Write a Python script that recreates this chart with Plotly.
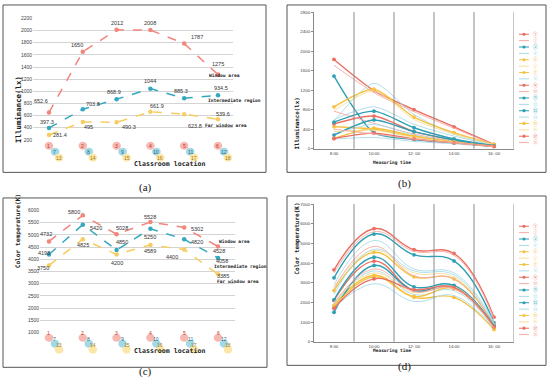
import plotly.graph_objects as go

W, H = 550, 391

# ---------------- data ----------------
locations = [1, 2, 3, 4, 5, 6]
series_names = ["Window area", "Intermediate region", "Far window area"]

illum_window = [652.6, 1650, 2012, 2008, 1787, 1275]
illum_mid = [397.3, 703.8, 868.9, 1044, 885.3, 934.5]
illum_far = [281.4, 495, 490.3, 661.9, 623.8, 539.6]
illum_window_lbl = ["652.6", "1650", "2012", "2008", "1787", "1275"]
illum_mid_lbl = ["397.3", "703.8", "868.9", "1044", "885.3", "934.5"]
illum_far_lbl = ["281.4", "495", "490.3", "661.9", "623.8", "539.6"]

cct_window = [4732, 5800, 5028, 5528, 5302, 4528]
cct_mid = [4198, 5420, 4380, 5250, 4820, 4058]
cct_far = [3750, 4825, 4200, 4589, 4400, 3385]
cct_window_lbl = ["4732", "5800", "5028", "5528", "5302", "4528"]
cct_mid_lbl = ["4198", "5420", "4850", "5250", "4820", "4058"]
cct_far_lbl = ["3750", "4825", "4200", "4589", "4400", "3385"]

row1_ids = ["1", "2", "3", "4", "5", "6"]
row2_ids = ["7", "8", "9", "10", "11", "12"]
row3_ids = ["13", "14", "15", "16", "17", "18"]

times = ["8:00", "10:00", "12: 00", "14:00", "16: 00"]
point_names = ["①", "②", "③", "④", "⑤", "⑥", "⑦", "⑧", "⑨",
               "⑩", "⑪", "⑫", "⑬", "⑭", "⑮", "⑯", "⑰", "⑱"]

illum_time = [
    [1830, 1190, 800, 450, 90],
    [1710, 1150, 760, 420, 80],
    [1490, 330, 190, 120, 50],
    [560, 1340, 700, 300, 80],
    [860, 1220, 650, 330, 90],
    [780, 1180, 600, 300, 80],
    [450, 400, 250, 150, 60],
    [600, 860, 500, 260, 70],
    [510, 670, 350, 180, 60],
    [770, 520, 300, 160, 50],
    [545, 770, 430, 200, 60],
    [300, 500, 280, 150, 50],
    [280, 590, 350, 180, 55],
    [200, 230, 150, 100, 40],
    [210, 420, 260, 140, 50],
    [350, 380, 230, 130, 50],
    [210, 320, 200, 120, 45],
    [400, 300, 200, 120, 40],
]

cct_time = [
    [3660, 5750, 4680, 4490, 1250],
    [3500, 5600, 4600, 4400, 1150],
    [3250, 5480, 4420, 4110, 960],
    [2900, 5150, 3700, 3500, 1000],
    [2600, 4550, 3300, 3200, 850],
    [2800, 4650, 3500, 3300, 900],
    [1850, 3380, 2260, 2260, 620],
    [2400, 4700, 3600, 3400, 900],
    [2100, 4100, 2600, 2750, 780],
    [2700, 4850, 3350, 3200, 850],
    [2130, 4300, 2790, 2870, 800],
    [1900, 3600, 2400, 2600, 700],
    [1500, 3880, 2600, 2800, 750],
    [1700, 2950, 2050, 2350, 650],
    [1750, 3300, 2300, 2700, 700],
    [2000, 3500, 2500, 2800, 720],
    [1700, 3200, 2650, 2750, 760],
    [1950, 3700, 2550, 2700, 700],
]

# ---------------- styles ----------------
RED, BLUE, YEL = "#f0867c", "#35a8c0", "#f7cd62"
R, Rl = "#ec6f63", "#f5aca4"
T, Tl = "#2e9fb5", "#a8dbe8"
Y, Yl = "#f5c244", "#f9dc96"
series_colors = [R, Rl, T, Tl, Y, Yl, Y, Tl, R, Rl, T, Tl, T, Tl, Y, Yl, R, Rl]
MONO = "DejaVu Sans Mono"
SANS = "Liberation Sans"


def fx(x):
    return x / W


def fy(y):
    return 1 - y / H


fig = go.Figure()
annotations = []
shapes = []

# ---------------- panels (a) and (c) ----------------
panel_ac = [
    dict(xa="x", ya="y", xaxis="xaxis", yaxis="yaxis",
         vals=[illum_window, illum_mid, illum_far],
         lbls=[illum_window_lbl, illum_mid_lbl, illum_far_lbl],
         offs=[[(-8, 11), (-6, 7), (0, 7), (0, 7), (13, 7), (0, 11)],
               [(-2, 6), (10, 5), (-3, 7), (0, 8), (-3, 7), (3, 7)],
               [(11, 0), (6, -5), (12, -5), (7, 6), (11, -12), (5, 5)]],
         names_pos=[(207, 74), (206, 99), (203, 124)],
         xdom=(33, 233), xrng=(0.527, 6.444), ydom=(139, 15.7), yrng=(200, 2200), dtick=200,
         circ_y=(145, 151, 157), title_y=164, ytitle="Illuminance(lx)", ytitle_pos=(12, 72),
         ytitle_size=7.4),
    dict(xa="x3", ya="y3", xaxis="xaxis3", yaxis="yaxis3",
         vals=[cct_window, cct_mid, cct_far],
         lbls=[cct_window_lbl, cct_mid_lbl, cct_far_lbl],
         offs=[[(-3, 7), (-9, 3), (5, 6), (0, 5), (13, -1), (1, -5)],
               [(-5, 1), (13, -3), (5, 8), (0, -8), (13, -3), (4, -3)],
               [(-6, -3), (0, -6), (0, -9), (0, -6), (-12, -7), (5, -2)]],
         names_pos=[(217, 242), (212, 268), (215, 283)],
         xdom=(40, 235), xrng=(0.734, 6.503), ydom=(334.7, 210.7), yrng=(1000, 6000), dtick=500,
         circ_y=(340, 346, 352), title_y=360, ytitle="Color temperature(K)", ytitle_pos=(12, 272),
         ytitle_size=6.2),
]

for p in panel_ac:
    for k, (vals, lbls, col) in enumerate(zip(p["vals"], p["lbls"], [RED, BLUE, YEL])):
        fig.add_trace(go.Scatter(
            x=locations, y=vals, mode="lines+markers", xaxis=p["xa"], yaxis=p["ya"],
            line=dict(color=col, width=1.5, dash="dash"),
            marker=dict(color=col, size=4.5, symbol="circle"),
            showlegend=False, hoverinfo="skip"))
        for i, (xv, yv, t) in enumerate(zip(locations, vals, lbls)):
            dx, dy = p["offs"][k][i]
            annotations.append(dict(
                x=xv, y=yv, xref=p["xa"], yref=p["ya"], text=t, showarrow=False,
                xshift=dx, yshift=dy, font=dict(family=SANS, size=5.5, color="#333")))
        nx, ny = p["names_pos"][k]
        annotations.append(dict(
            x=fx(nx), y=fy(ny), xref="paper", yref="paper", text=series_names[k],
            showarrow=False, xanchor="left", yanchor="middle",
            font=dict(family=MONO, size=4.6, color="#222", weight="bold")))
    # category markers
    rows = [(row1_ids, "#f7b8b1", "#b8372c", 0), (row2_ids, "#a3d8e6", "#1d6b80", 6),
            (row3_ids, "#fce7a8", "#a67a10", 10)]
    for r, (ids, fill, tcol, dxr) in enumerate(rows):
        cy = p["circ_y"][r]
        for xv, t in zip(locations, ids):
            shapes.append(dict(
                type="circle", xref=p["xa"], yref="paper", xsizemode="pixel", ysizemode="pixel",
                xanchor=xv, yanchor=fy(cy), x0=dxr - 4.3, x1=dxr + 4.3, y0=-4.0, y1=4.0,
                fillcolor=fill, line=dict(width=0), layer="below"))
            annotations.append(dict(
                x=xv, y=fy(cy), xref=p["xa"], yref="paper", xshift=dxr, text=t,
                showarrow=False, font=dict(family=SANS, size=5, color=tcol)))
    annotations.append(dict(
        x=fx(132), y=fy(p["title_y"]), xref="paper", yref="paper", text="Classroom location",
        showarrow=False, font=dict(family=MONO, size=6.6, color="#222", weight="bold")))
    annotations.append(dict(
        x=fx(p["ytitle_pos"][0]), y=fy(p["ytitle_pos"][1]), xref="paper", yref="paper",
        text=p["ytitle"], textangle=-90, showarrow=False,
        font=dict(family=MONO, size=p["ytitle_size"], color="#222", weight="bold")))
    fig.layout[p["xaxis"]] = dict(
        domain=[fx(p["xdom"][0]), fx(p["xdom"][1])], range=list(p["xrng"]),
        showgrid=False, zeroline=False, showticklabels=False, showline=False,
        anchor=p["ya"])
    fig.layout[p["yaxis"]] = dict(
        domain=[fy(p["ydom"][0]), fy(p["ydom"][1])], range=list(p["yrng"]), dtick=p["dtick"],
        showgrid=True, gridcolor="#d4d4d4", gridwidth=1.4, zeroline=False, showline=False,
        ticks="", tickfont=dict(family=SANS, size=5, color="#444"), anchor=p["xa"])

# ---------------- panels (b) and (d) ----------------
panel_bd = [
    dict(xa="x2", ya="y2", xaxis="xaxis2", yaxis="yaxis2", data=illum_time, off=0,
         ydom=(148, 9.3), yrng=(0, 2800), dtick=400, smooth=0.7,
         ytitle="Illuminance(lx)", ytitle_pos=(297, 94), ytitle_size=5.8,
         lx="xaxis5", ly="yaxis5", lxa="x5", lya="y5"),
    dict(xa="x4", ya="y4", xaxis="xaxis4", yaxis="yaxis4", data=cct_time, off=195,
         ydom=(344, 204.3), yrng=(0, 7000), dtick=1000, smooth=1.2,
         ytitle="Color temperature(K)", ytitle_pos=(297, 278), ytitle_size=6.0,
         lx="xaxis6", ly="yaxis6", lxa="x6", lya="y6"),
]
xs = list(range(len(times)))

for p in panel_bd:
    off = p["off"]
    for i, vals in enumerate(p["data"]):
        col = series_colors[i]
        has_marker = (i % 2 == 0)
        fig.add_trace(go.Scatter(
            x=xs, y=vals, xaxis=p["xa"], yaxis=p["ya"],
            mode="lines+markers" if has_marker else "lines",
            line=dict(color=col, width=1.4 if has_marker else 0.9, shape="spline",
                      smoothing=p["smooth"]),
            marker=dict(color=col, size=3.8),
            showlegend=False, hoverinfo="skip"))
        # legend sample
        fig.add_trace(go.Scatter(
            x=[0, 1], y=[i, i], xaxis=p["lxa"], yaxis=p["lya"], mode="lines",
            line=dict(color=col, width=1.0), showlegend=False, hoverinfo="skip"))
        if has_marker:
            fig.add_trace(go.Scatter(
                x=[0.5], y=[i], xaxis=p["lxa"], yaxis=p["lya"], mode="markers",
                marker=dict(color=col, size=3.2), showlegend=False, hoverinfo="skip"))
        annotations.append(dict(
            x=fx(531), y=fy(31.7 + 6.47 * i + off), xref="paper", yref="paper",
            xanchor="left", yanchor="middle",
            text=point_names[i], showarrow=False,
            font=dict(family="Noto Sans CJK SC", size=4.6, color=col)))
    # vertical separators
    for v in [0.5, 1.5, 2.5, 3.5, 4.5]:
        shapes.append(dict(type="line", xref=p["xa"], yref=p["ya"] + " domain",
                           x0=v, x1=v, y0=0, y1=1, line=dict(color="#8a8a8a", width=1)))
    annotations.append(dict(
        x=fx(413), y=fy(162 + off), xref="paper", yref="paper", text="Measuring time",
        showarrow=False, font=dict(family=MONO, size=4.5, color="#222", weight="bold")))
    annotations.append(dict(
        x=fx(p["ytitle_pos"][0]), y=fy(p["ytitle_pos"][1]), xref="paper", yref="paper",
        text=p["ytitle"], textangle=-90, showarrow=False,
        font=dict(family=MONO, size=p["ytitle_size"], color="#222", weight="bold")))
    fig.layout[p["xaxis"]] = dict(
        domain=[fx(314), fx(514)], range=[-0.5, 4.5], tickvals=xs, ticktext=times,
        showgrid=False, zeroline=False, showline=True, linecolor="#8a8a8a", linewidth=1,
        ticks="", tickfont=dict(family=SANS, size=4.4, color="#444"), anchor=p["ya"])
    fig.layout[p["yaxis"]] = dict(
        domain=[fy(p["ydom"][0]), fy(p["ydom"][1])], range=list(p["yrng"]), dtick=p["dtick"],
        showgrid=False, zeroline=False, showline=True, linecolor="#8a8a8a", linewidth=1,
        ticks="outside", ticklen=2, tickcolor="#8a8a8a",
        tickfont=dict(family=SANS, size=4.4, color="#444"), anchor=p["xa"])
    # legend axes
    fig.layout[p["lx"]] = dict(domain=[fx(519), fx(529)], range=[0, 1], visible=False,
                               anchor=p["lya"])
    fig.layout[p["ly"]] = dict(domain=[fy(145.0 + off), fy(28.5 + off)], range=[17.5, -0.5],
                               visible=False, anchor=p["lxa"])

# ---------------- frames and panel letters ----------------
frames = [(3, 2, 266, 172), (287, 2, 546, 172), (3, 198, 267, 370), (287, 196, 546, 368)]
for x0, y0, x1, y1 in frames:
    shapes.append(dict(type="rect", xref="paper", yref="paper", x0=fx(x0), x1=fx(x1),
                       y0=fy(y1), y1=fy(y0), line=dict(color="#555", width=1)))
letters = [("(a)", 137, 187), ("(b)", 413, 183), ("(c)", 137, 383), ("(d)", 413, 378)]
for t, x, y in letters:
    annotations.append(dict(x=fx(x), y=fy(y), xref="paper", yref="paper", text=t,
                            showarrow=False,
                            font=dict(family="Liberation Serif", size=11, color="#111")))

fig.update_layout(
    width=W, height=H, margin=dict(l=0, r=0, t=0, b=0),
    paper_bgcolor="white", plot_bgcolor="white",
    annotations=annotations, shapes=shapes, showlegend=False,
)
fig.write_html("out.html", config={"displayModeBar": False},
               post_script="document.body.style.margin='0';")
